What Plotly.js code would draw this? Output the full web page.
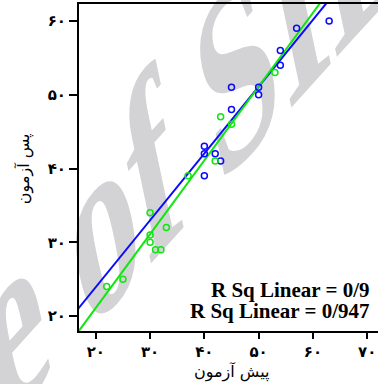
<!DOCTYPE html>
<html>
<head>
<meta charset="utf-8">
<script src="https://cdn.plot.ly/plotly-3.0.1.min.js"></script>
<style>
  html, body { margin: 0; padding: 0; background: #ffffff; }
  #wrap { position: relative; width: 378px; height: 384px; overflow: hidden; }
  #wm { position: absolute; left: 0; top: 0; z-index: 0; }
  #chart { position: absolute; left: 0; top: 0; z-index: 1; }
</style>
</head>
<body>
<div id="wrap">
  <svg id="wm" width="378" height="384">
    <text x="0" y="0" transform="matrix(0.669 -0.743 0.270 1.271 -356.6 827.1)" font-family="Liberation Serif, Times New Roman, serif" font-weight="bold" font-size="183" fill="#d3d3d5">Archive of SID</text>
  </svg>
  <div id="chart"></div>
</div>
<script>
// Group 1 (blue)
const blueX = [63, 57, 54, 54, 45, 50, 50, 45, 40, 40, 42, 43, 40];
const blueY = [60, 59, 56, 54, 51, 51, 50, 48, 43, 42, 42, 41, 39];
// Group 2 (green)
const greenX = [53, 43, 45, 42, 37, 30, 30, 33, 30, 31, 32, 25, 22];
const greenY = [53, 47, 46, 41, 39, 34, 31, 32, 30, 29, 29, 25, 24];
// Fit lines
const fitX = [15, 70];
const blueFitY = [19.4, 69.2];
const greenFitY = [16.1, 71.1];
// Tick labels
const xTickVals = [20, 30, 40, 50, 60, 70];
const xTickText = ['۲۰', '۳۰', '۴۰', '۵۰', '۶۰', '۷۰'];
const yTickVals = [20, 30, 40, 50, 60];
const yTickText = ['۲۰', '۳۰', '۴۰', '۵۰', '۶۰'];
const xTitle = 'پیش آزمون';
const yTitle = 'پس آزمون';
const rsq = ['R Sq Linear = 0/9', 'R Sq Linear = 0/947'];

const blue = '#0a0aff';
const green = '#10e610';

const traces = [
  {x: fitX, y: blueFitY, mode: 'lines', line: {color: blue, width: 2}, hoverinfo: 'skip'},
  {x: fitX, y: greenFitY, mode: 'lines', line: {color: green, width: 2}, hoverinfo: 'skip'},
  {x: blueX, y: blueY, mode: 'markers', marker: {symbol: 'circle-open', size: 6, color: blue, line: {width: 1.5, color: blue}}},
  {x: greenX, y: greenY, mode: 'markers', marker: {symbol: 'circle-open', size: 6, color: green, line: {width: 1.5, color: green}}}
];

const tickFont = {family: 'DejaVu Sans, Noto Sans, sans-serif', size: 15, color: '#000', weight: 'bold'};
const layout = {
  width: 378, height: 384,
  margin: {l: 79, r: 0, t: 4, b: 53},
  paper_bgcolor: 'rgba(0,0,0,0)',
  plot_bgcolor: 'rgba(0,0,0,0)',
  showlegend: false,
  xaxis: {
    range: [16.9, 72.0], tickvals: xTickVals, ticktext: xTickText,
    showgrid: false, zeroline: false, showline: true, mirror: true,
    linecolor: '#000', linewidth: 2, ticks: 'outside', ticklen: 6, tickwidth: 2, tickcolor: '#000',
    tickfont: tickFont
  },
  yaxis: {
    range: [17.97, 62.3], tickvals: yTickVals, ticktext: yTickText,
    showgrid: false, zeroline: false, showline: true, mirror: false,
    linecolor: '#000', linewidth: 2, ticks: 'outside', ticklen: 8, tickwidth: 2, tickcolor: '#000',
    tickfont: tickFont
  },
  annotations: [
    {text: xTitle, xref: 'paper', yref: 'paper', x: 0.512, y: -0.125, xanchor: 'center', yanchor: 'middle', showarrow: false,
     font: {family: 'DejaVu Sans, sans-serif', size: 16, color: '#000'}},
    {text: yTitle, xref: 'paper', yref: 'paper', x: -0.184, y: 0.498, xanchor: 'center', yanchor: 'middle', textangle: -90, showarrow: false,
     font: {family: 'DejaVu Sans, sans-serif', size: 16, color: '#000'}},
    {text: rsq[0], xref: 'paper', yref: 'paper', x: 0.98, y: 0.125, xanchor: 'right', yanchor: 'middle', showarrow: false,
     font: {family: 'Liberation Serif, Times New Roman, serif', size: 21, color: '#000', weight: 'bold'}},
    {text: rsq[1], xref: 'paper', yref: 'paper', x: 0.98, y: 0.061, xanchor: 'right', yanchor: 'middle', showarrow: false,
     font: {family: 'Liberation Serif, Times New Roman, serif', size: 21, color: '#000', weight: 'bold'}}
  ]
};

Plotly.newPlot('chart', traces, layout, {staticPlot: true, displayModeBar: false});
</script>
</body>
</html>
